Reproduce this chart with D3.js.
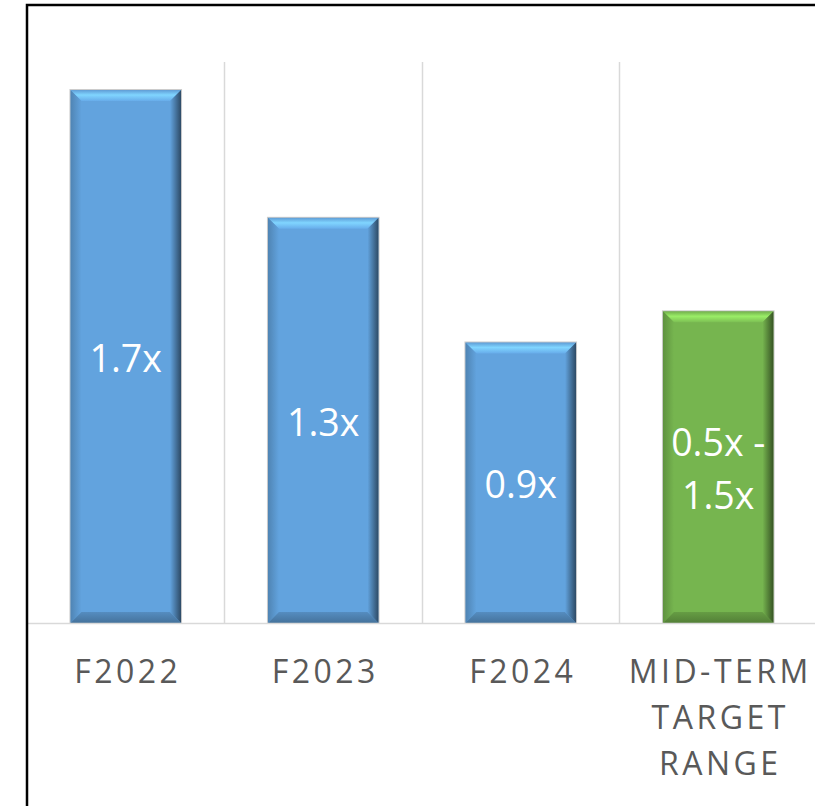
<!DOCTYPE html>
<html>
<head>
<meta charset="utf-8">
<script src="https://cdn.jsdelivr.net/npm/d3@7"></script>
<style>
  body { margin: 0; background: #fff; }
</style>
</head>
<body>
<svg id="chart"></svg>
<script>
// chart data
const categories = ['F2022', 'F2023', 'F2024', 'MID-TERM TARGET RANGE'];
const values = [1.71, 1.30, 0.90, 1.00];
const barLabels = [['1.7x'], ['1.3x'], ['0.9x'], ['0.5x -', '1.5x']];
const catLines = [['F2022'], ['F2023'], ['F2024'], ['MID-TERM', 'TARGET', 'RANGE']];
const barColors = ['#62a3de', '#62a3de', '#62a3de', '#76b54f'];

const width = 815, height = 806;
const svg = d3.select('#chart').attr('width', width).attr('height', height);

const x = d3.scaleBand().domain(categories).range([27, 817]).paddingInner(0.44).paddingOuter(0.22);
const y = d3.scaleLinear().domain([0, 1.8]).range([623, 62]);

const step = x.step();

// vertical gridlines between categories
const grid = svg.append('g');
categories.forEach((c, i) => {
  if (i === 0) return;
  const gx = x(c) - x.paddingInner() * step / 2 - 0.5;
  grid.append('line')
    .attr('x1', Math.round(gx) + 0.5).attr('x2', Math.round(gx) + 0.5)
    .attr('y1', y(1.8)).attr('y2', y(0))
    .attr('stroke', '#d9d9d9').attr('stroke-width', 1.5);
});

// gradients for bevel
const defs = svg.append('defs');
function makeGrads(id, base) {
  const c = d3.color(base);
  const g1 = defs.append('linearGradient').attr('id', id + '-top').attr('x1', 0).attr('y1', 0).attr('x2', 0).attr('y2', 1);
  g1.append('stop').attr('offset', '0%').attr('stop-color', c.darker(0.1));
  g1.append('stop').attr('offset', '45%').attr('stop-color', c.brighter(0.75));
  g1.append('stop').attr('offset', '100%').attr('stop-color', c.brighter(0.15));
  const g2 = defs.append('linearGradient').attr('id', id + '-right').attr('x1', 0).attr('y1', 0).attr('x2', 1).attr('y2', 0);
  g2.append('stop').attr('offset', '0%').attr('stop-color', c);
  g2.append('stop').attr('offset', '100%').attr('stop-color', c.darker(2.2));
  const g3 = defs.append('linearGradient').attr('id', id + '-bottom').attr('x1', 0).attr('y1', 0).attr('x2', 0).attr('y2', 1);
  g3.append('stop').attr('offset', '0%').attr('stop-color', c.darker(0.4));
  g3.append('stop').attr('offset', '100%').attr('stop-color', c.darker(1.0));
  const g4 = defs.append('linearGradient').attr('id', id + '-left').attr('x1', 0).attr('y1', 0).attr('x2', 1).attr('y2', 0);
  g4.append('stop').attr('offset', '0%').attr('stop-color', c.darker(0.6));
  g4.append('stop').attr('offset', '100%').attr('stop-color', c);
}
makeGrads('blue', '#62a3de');
makeGrads('green', '#76b54f');

const b = 11;
const bars = svg.append('g');
categories.forEach((c, i) => {
  const x0 = x(c), x1 = x0 + x.bandwidth();
  const y0 = y(values[i]), y1 = y(0);
  const id = barColors[i] === '#76b54f' ? 'green' : 'blue';
  const g = bars.append('g');
  g.append('rect').attr('x', x0).attr('y', y0).attr('width', x1 - x0).attr('height', y1 - y0).attr('fill', barColors[i]);
  g.append('polygon').attr('points', [[x0, y0], [x1, y0], [x1 - b, y0 + b], [x0 + b, y0 + b]].join(' ')).attr('fill', `url(#${id}-top)`);
  g.append('polygon').attr('points', [[x0, y0], [x0 + b, y0 + b], [x0 + b, y1 - b], [x0, y1]].join(' ')).attr('fill', `url(#${id}-left)`);
  g.append('polygon').attr('points', [[x0, y1], [x0 + b, y1 - b], [x1 - b, y1 - b], [x1, y1]].join(' ')).attr('fill', `url(#${id}-bottom)`);
  g.append('polygon').attr('points', [[x1, y0], [x1, y1], [x1 - b, y1 - b], [x1 - b, y0 + b]].join(' ')).attr('fill', `url(#${id}-right)`);
  g.append('rect').attr('x', x0 - 0.5).attr('y', y0 - 0.5).attr('width', x1 - x0 + 1).attr('height', y1 - y0 + 1)
    .attr('fill', 'none').attr('stroke', '#a6a6a6').attr('stroke-opacity', 0.6).attr('stroke-width', 1);

  // value label
  const lines = barLabels[i];
  const mid = (y0 + y1) / 2 + 2;
  const lh = 53;
  lines.forEach((t, k) => {
    g.append('text')
      .attr('x', (x0 + x1) / 2)
      .attr('y', mid + (k - (lines.length - 1) / 2) * lh)
      .attr('dy', '0.35em')
      .attr('text-anchor', 'middle')
      .attr('font-family', '"Open Sans", sans-serif')
      .attr('font-size', 37.5)
      .attr('fill', '#ffffff')
      .text(t);
  });
});

// baseline
svg.append('line').attr('x1', 27).attr('x2', width).attr('y1', y(0) + 0.5).attr('y2', y(0) + 0.5)
  .attr('stroke', '#d9d9d9').attr('stroke-width', 1.5);

// category labels
const labels = svg.append('g');
categories.forEach((c, i) => {
  catLines[i].forEach((t, k) => {
    labels.append('text')
      .attr('x', x(c) + x.bandwidth() / 2 + 2)
      .attr('y', 672 + k * 46)
      .attr('dy', '0.35em')
      .attr('text-anchor', 'middle')
      .attr('font-family', '"Open Sans", sans-serif')
      .attr('font-size', 32)
      .attr('letter-spacing', 3.5)
      .attr('fill', '#595959')
      .text(t);
  });
});

// frame
svg.append('path').attr('d', `M27,${height} L27,5 L${width},5`)
  .attr('fill', 'none').attr('stroke', '#000').attr('stroke-width', 2.5);
</script>
</body>
</html>
